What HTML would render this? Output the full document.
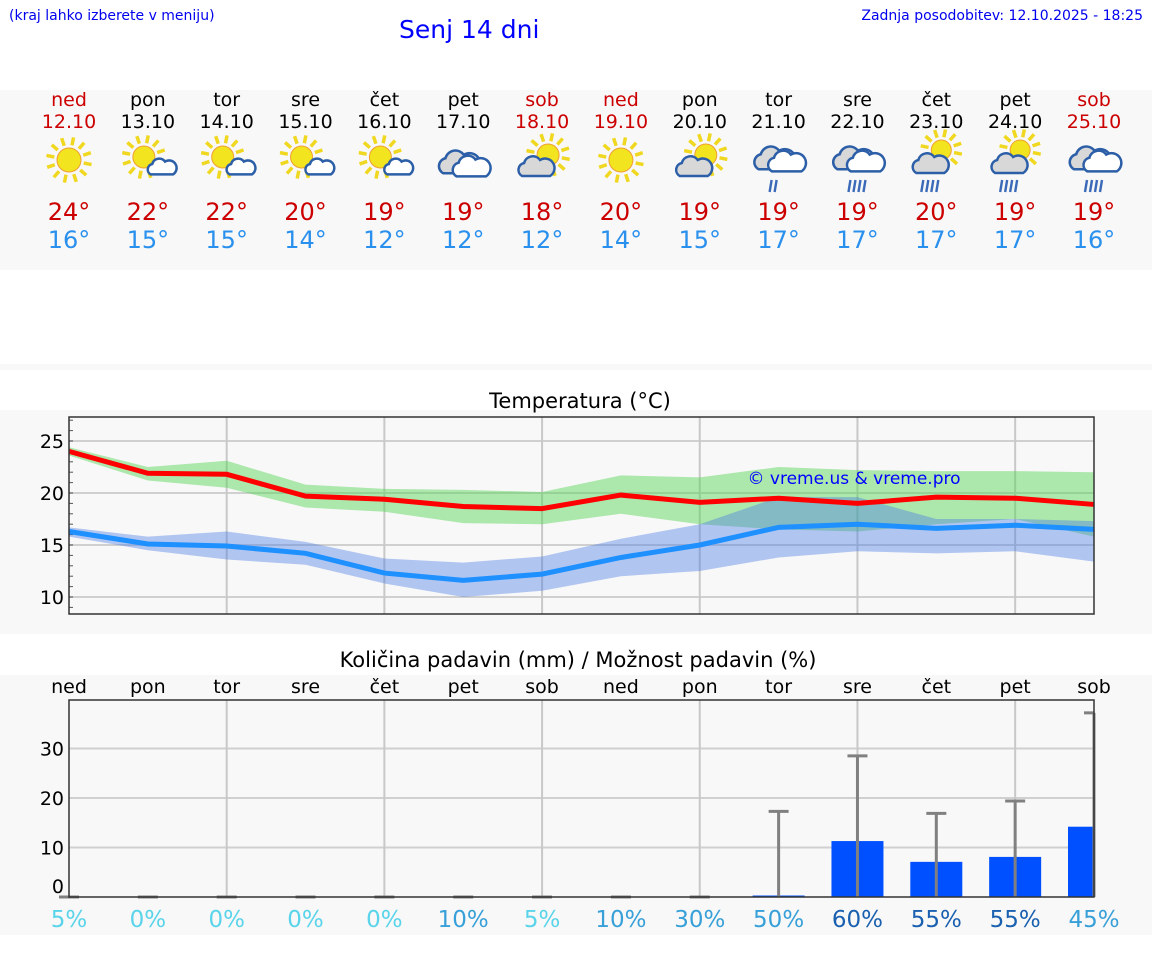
<!DOCTYPE html>
<html><head><meta charset="utf-8"><style>
body{margin:0;width:1152px;height:975px;background:#fff;font-family:"DejaVu Sans","Liberation Sans",sans-serif;position:relative;overflow:hidden}
.abs{position:absolute}
</style></head><body>
<div class="abs" style="left:9px;top:8px;font-size:14px;color:#0000ee">(kraj lahko izberete v meniju)</div>
<div class="abs" style="left:399px;top:15px;font-size:25px;color:#0000ff">Senj 14 dni</div>
<div class="abs" style="right:9px;top:8px;font-size:14px;color:#0000ee">Zadnja posodobitev: 12.10.2025 - 18:25</div>
<div class="abs" style="left:0;top:90px;width:1152px;height:180px;background:#f8f8f8"></div>
<div class="abs" style="left:0;top:364px;width:1152px;height:6px;background:#f8f8f8"></div>
<div id="days"></div>
<svg class="abs" style="left:0;top:0" width="1152" height="975" id="charts"></svg>
<script>
const dayNames=["ned","pon","tor","sre","čet","pet","sob","ned","pon","tor","sre","čet","pet","sob"];
const dates=["12.10","13.10","14.10","15.10","16.10","17.10","18.10","19.10","20.10","21.10","22.10","23.10","24.10","25.10"];
const icons=["sun","sunc","sunc","sunc","sunc","cloud","csun","sun","csun","rain","rain","srain","srain","rain"];
const tmax=[24,22,22,20,19,19,18,20,19,19,19,20,19,19];
const tmin=[16,15,15,14,12,12,12,14,15,17,17,17,17,16];
const maxLine=[24.0,21.9,21.8,19.7,19.4,18.7,18.5,19.8,19.1,19.5,19.0,19.6,19.5,18.9];
const maxHi=[24.4,22.5,23.1,20.8,20.4,20.3,20.1,21.7,21.5,22.5,22.2,22.1,22.1,22.0];
const maxLo=[23.6,21.2,20.5,18.6,18.2,17.1,17.0,18.0,17.0,16.5,16.3,17.0,17.5,15.8];
const minLine=[16.3,15.1,14.9,14.2,12.3,11.6,12.2,13.8,15.0,16.7,17.0,16.6,16.9,16.5];
const minHi=[16.7,15.8,16.3,15.3,13.7,13.3,13.9,15.6,17.0,19.6,19.6,17.5,17.5,17.3];
const minLo=[15.8,14.5,13.6,13.1,11.3,10.0,10.6,12.0,12.5,13.8,14.4,14.2,14.4,13.4];
const precip=[0,0,0,0,0,0,0,0,0,0.3,11.3,7.1,8.1,14.2];
const precipMax=[0,0,0,0,0,0,0,0,0,17.3,28.5,16.9,19.4,37.2];
const chance=[5,0,0,0,0,10,5,10,30,50,60,55,55,45];
const tempTicks=[10,15,20,25];
const precipTicks=[0,10,20,30];

const NS="http://www.w3.org/2000/svg";
const svg=document.getElementById('charts');
function el(tag,attrs,parent){const e=document.createElementNS(NS,tag);for(const k in attrs)e.setAttribute(k,attrs[k]);(parent||svg).appendChild(e);return e;}
const X=i=>69+i*1025/13;
const red=d=>d===0||d===6;
const days=document.getElementById('days');
function sun(g,cx,cy,r){for(let a=0;a<12;a++){const an=a*Math.PI/6+0.2;el('line',{x1:cx+Math.cos(an)*(r+3),y1:cy+Math.sin(an)*(r+3),x2:cx+Math.cos(an)*(r+11),y2:cy+Math.sin(an)*(r+11),stroke:'#f0d820','stroke-width':3.5},g);}
el('circle',{cx:cx,cy:cy,r:r,fill:'#f2e41e',stroke:'#f0a030','stroke-width':1},g);}
function cloud(g,cx,cy,s,fill){const p=`M${cx-14*s},${cy+8*s} a${7*s},${7*s} 0 0 1 ${2*s},${-13*s} a${9*s},${9*s} 0 0 1 ${16*s},${-3*s} a${7*s},${7*s} 0 0 1 ${10*s},${16*s} z`;el('path',{d:p,fill:fill,stroke:'#2c5fa8','stroke-width':2.5},g);}
function rainDrops(g,cx,cy,n){for(let k=0;k<n;k++)el('line',{x1:cx-8+k*5+1,y1:cy,x2:cx-8+k*5-1,y2:cy+12,stroke:'#3a6ab8','stroke-width':2.4},g);}
for(let i=0;i<14;i++){
 const x=X(i);const d=document.createElement('div');d.className='abs';
 
 
 d.style.cssText=`left:${x-40}px;top:89px;width:80px;text-align:center;font-size:19px;line-height:22px;color:${red(i%7)?'#cc0000':'#000'}`;
 d.innerHTML=`<div>${dayNames[i]}</div><div>${dates[i]}</div><div style="height:65px"></div><div style="font-size:24px;line-height:28px;color:#cc0000">${tmax[i]}°</div><div style="font-size:24px;line-height:28px;color:#2a90ee">${tmin[i]}°</div>`;
 days.appendChild(d);
 const g=el('g',{});
 
 
 const cy=160,t=icons[i];
 if(t==='sun')sun(g,x,cy,12);
 if(t==='sunc'){sun(g,x-4,cy-3,11);cloud(g,x+14,cy+8,0.8,'#fff');}
 if(t==='csun'){sun(g,x+6,cy-5,11);cloud(g,x-6,cy+8,1.0,'#d8d8d8');}
 if(t==='cloud'){cloud(g,x-4,cy+4,1.15,'#d8d8d8');cloud(g,x+8,cy+8,1.05,'#fff');}
 if(t==='rain'){cloud(g,x-4,cy,1.15,'#d8d8d8');cloud(g,x+8,cy+3,1.05,'#fff');rainDrops(g,x,cy+20,i===9?2:4);}
 if(t==='srain'){sun(g,x+5,cy-10,10);cloud(g,x-6,cy+5,1.0,'#d8d8d8');rainDrops(g,x-6,cy+20,4);}
}
// temp chart
el('rect',{x:0,y:410,width:1152,height:224,fill:'#f8f8f8'});
const tt=el('text',{x:580,y:408,'font-size':21,'text-anchor':'middle',fill:'#000'});tt.textContent='Temperatura (°C)';

const TY=t=>597-(t-10)*10.4;
for(const t of tempTicks){el('line',{x1:69,x2:1094,y1:TY(t),y2:TY(t),stroke:'#d0d0d0','stroke-width':2});const tx=el('text',{x:64,y:TY(t)+7,'font-size':19,'text-anchor':'end'});tx.textContent=t;}
for(let t=9;t<=27;t++)el('line',{x1:69,x2:73,y1:TY(t),y2:TY(t),stroke:'#555','stroke-width':1});
for(let i=2;i<13;i+=2)el('line',{x1:X(i),x2:X(i),y1:417,y2:614,stroke:'#c8c8c8','stroke-width':2});
function band(hi,lo,col,name){let d='M'+hi.map((v,i)=>X(i)+','+TY(v)).join(' L')+' L'+lo.map((v,i)=>X(i)+','+TY(v)).reverse().join(' L')+'Z';const p=el('path',{d:d,fill:col});}
function line(v,col,name){const p=el('polyline',{points:v.map((y,i)=>X(i)+','+TY(y)).join(' '),fill:'none',stroke:col,'stroke-width':5});}
band(maxHi,maxLo,'rgba(80,210,80,0.45)','max-temp-band');
band(minHi,minLo,'rgba(70,120,230,0.4)','min-temp-band');
line(maxLine,'#ff0000','max-temp-line');line(minLine,'#1e90ff','min-temp-line');
const wm=el('text',{x:854,y:484,'font-size':17,'text-anchor':'middle',fill:'#0000ff'});wm.textContent='© vreme.us & vreme.pro';

el('rect',{x:69,y:417,width:1025,height:197,fill:'none',stroke:'#333','stroke-width':1.5});
// precip chart
el('rect',{x:0,y:675,width:1152,height:260,fill:'#f8f8f8'});
const pt=el('text',{x:578,y:667,'font-size':21,'text-anchor':'middle'});pt.textContent='Količina padavin (mm) / Možnost padavin (%)';

const PY=v=>897-v*4.95;
for(const t of precipTicks){if(t>0)el('line',{x1:69,x2:1094,y1:PY(t),y2:PY(t),stroke:'#d0d0d0','stroke-width':2});const tx=el('text',{x:64,y:t===0?PY(t)-4:PY(t)+7,'font-size':19,'text-anchor':'end'});tx.textContent=t;}
for(let i=2;i<13;i+=2)el('line',{x1:X(i),x2:X(i),y1:700,y2:897,stroke:'#c8c8c8','stroke-width':2});
const chCol=c=>c>=55?'#1a60b0':c>=10?'#38a0d8':'#5ad4ea';
for(let i=0;i<14;i++){
 const x=X(i);
 const dl=el('text',{x:x,y:693,'font-size':19,'text-anchor':'middle'});dl.textContent=dayNames[i];
 const w=i===13?26:52,bx=x-26;
 if(precip[i]>0){const b=el('rect',{x:bx,y:PY(precip[i]),width:w,height:PY(0)-PY(precip[i]),fill:'#0050ff'});}
 const eg=el('g',{stroke:'#808080','stroke-width':3});
 el('line',{x1:x,x2:x,y1:PY(0),y2:PY(precipMax[i])},eg);
 el('line',{x1:x-10,x2:Math.min(x+10,1094),y1:PY(precipMax[i]),y2:PY(precipMax[i])},eg);
 const c=el('text',{x:x,y:927,'font-size':23,'text-anchor':'middle',fill:chCol(chance[i])});c.textContent=chance[i]+'%';
}
el('rect',{x:69,y:700,width:1025,height:197,fill:'none',stroke:'#333','stroke-width':1.5});
</script>
</body></html>
